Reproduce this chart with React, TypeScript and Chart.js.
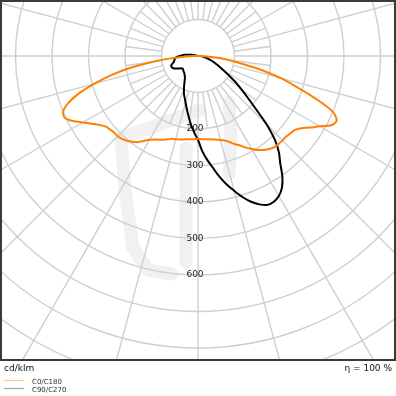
import { useEffect, useRef } from "react";
import { Chart, registerables } from "chart.js";

Chart.register(...registerables);

// gamma angles (deg from nadir) shared by all half-planes
const gammaDeg = [
  0, 2.5, 5, 7.5, 10, 12.5, 15, 17.5, 20, 22.5, 25, 27.5, 30, 32.5, 35, 37.5,
  40, 42.5, 45, 47.5, 50, 52.5, 55, 57.5, 60, 62.5, 65, 67.5, 70, 72.5, 75,
  77.5, 80, 82.5, 85, 87.5, 90, 95, 100, 105, 110, 180,
];

// luminous intensity, cd/klm
const c0Values = [
  227, 228, 229, 230, 232, 235, 238, 243, 250, 261, 270, 283, 294, 305, 314,
  321, 326, 327, 327, 327, 330, 334, 345, 365, 385, 411, 419, 400, 345, 285,
  235, 180, 125, 85, 55, 25, 5, 0, 0, 0, 0, 0,
];
const c180Values = [
  227, 228, 229, 230, 232, 234, 236, 238, 243, 248, 253, 258, 265, 276, 288,
  296, 303, 308, 311, 311, 314, 318, 329, 345, 364, 386, 402, 400, 379, 343,
  295, 245, 190, 130, 75, 40, 8, 0, 0, 0, 0, 0,
];
const c90Values = [
  230, 260, 285, 308, 335, 360, 382, 405, 425, 440, 450, 450, 443, 428, 403,
  370, 345, 312, 268, 215, 178, 150, 127, 103, 84, 70, 60, 50, 42, 35, 28, 22,
  17, 13, 10, 7, 5, 3, 0, 0, 0, 0,
];
const c270Values = [
  230, 212, 195, 177, 160, 145, 132, 121, 112, 101, 90, 80, 72, 67, 64, 61, 59,
  58, 57, 55, 54, 56, 59, 64, 69, 74, 77, 78, 78, 75, 70, 67, 66, 64, 63, 58,
  50, 36, 18, 5, 0, 0,
];

const ringValues = [100, 200, 300, 400, 500, 600, 700, 800, 900, 1000, 1100];
const labelledRings = [200, 300, 400, 500, 600];
const seriesNames = ["C0/C180", "C90/C270"];
const unitLabel = "cd/klm";
const efficiencyLabel = "η = 100 %";

function planePoints(right: number[], left: number[]) {
  const pts: { x: number; y: number }[] = [];
  for (let i = gammaDeg.length - 1; i >= 0; i--) {
    const g = (gammaDeg[i] * Math.PI) / 180;
    pts.push({ x: -left[i] * Math.sin(g), y: -left[i] * Math.cos(g) });
  }
  for (let i = 1; i < gammaDeg.length; i++) {
    const g = (gammaDeg[i] * Math.PI) / 180;
    pts.push({ x: right[i] * Math.sin(g), y: -right[i] * Math.cos(g) });
  }
  return pts;
}

const W = 396;
const PX_PER_UNIT = 0.365;
const CENTER_X = 198;
const CENTER_Y = 56;
const FRAME_BOTTOM = 361;
const FONT = "'DejaVu Sans', sans-serif";

// faint background watermark strokes (pixel polylines)
const watermark = [
  [[121, 138], [125, 190], [133, 248], [148, 270], [172, 274]],
  [[121, 138], [200, 110]],
  [[186, 148], [186, 262]],
  [[229, 102], [231, 140], [229, 174]],
];

const polarPlugin = {
  id: "polarGrid",
  beforeDatasetsDraw(chart: any) {
    const { ctx, chartArea, scales } = chart;
    const xs = scales.x;
    const ys = scales.y;
    const cx = xs.getPixelForValue(0);
    const cy = ys.getPixelForValue(0);
    const k = xs.getPixelForValue(1) - cx;
    ctx.save();
    ctx.beginPath();
    ctx.rect(chartArea.left, chartArea.top, chartArea.right - chartArea.left, FRAME_BOTTOM - chartArea.top);
    ctx.clip();
    // watermark
    ctx.strokeStyle = "#f1f1f1";
    ctx.lineWidth = 13;
    ctx.lineCap = "round";
    ctx.lineJoin = "round";
    for (const path of watermark) {
      ctx.beginPath();
      path.forEach((p, i) => (i ? ctx.lineTo(p[0], p[1]) : ctx.moveTo(p[0], p[1])));
      ctx.stroke();
    }
    ctx.lineCap = "butt";
    ctx.strokeStyle = "#cfcfcf";
    ctx.lineWidth = 1.4;
    for (const v of ringValues) {
      ctx.beginPath();
      ctx.arc(cx, cy, v * k, 0, Math.PI * 2);
      ctx.stroke();
    }
    const r1 = ringValues[0] * k;
    const r2 = ringValues[1] * k;
    const rMax = ringValues[ringValues.length - 1] * k;
    ctx.beginPath();
    for (let a = 0; a < 360; a += 7.5) {
      const t = (a * Math.PI) / 180;
      ctx.moveTo(cx + r1 * Math.sin(t), cy + r1 * Math.cos(t));
      ctx.lineTo(cx + r2 * Math.sin(t), cy + r2 * Math.cos(t));
    }
    for (let a = 0; a < 360; a += 15) {
      const t = (a * Math.PI) / 180;
      ctx.moveTo(cx + r2 * Math.sin(t), cy + r2 * Math.cos(t));
      ctx.lineTo(cx + rMax * Math.sin(t), cy + rMax * Math.cos(t));
    }
    ctx.stroke();
    ctx.fillStyle = "#222";
    ctx.font = `9px ${FONT}`;
    ctx.textAlign = "center";
    ctx.textBaseline = "middle";
    for (const v of labelledRings) {
      ctx.fillText(String(v), cx - 3, ys.getPixelForValue(-v));
    }
    ctx.restore();
  },
  afterDraw(chart: any) {
    const { ctx, chartArea } = chart;
    ctx.save();
    ctx.strokeStyle = "#3a3a3a";
    ctx.lineWidth = 2;
    ctx.strokeRect(chartArea.left + 1, chartArea.top + 1, chartArea.right - chartArea.left - 2, FRAME_BOTTOM - chartArea.top - 2);
    ctx.fillStyle = "#111";
    ctx.font = `9px ${FONT}`;
    ctx.textBaseline = "alphabetic";
    ctx.textAlign = "left";
    ctx.fillText(unitLabel, 4, 371);
    ctx.textAlign = "right";
    ctx.fillText(efficiencyLabel, 392, 371);
    const legendColors = ["#ffcc99", "#a6a6a6"];
    ctx.font = `7px ${FONT}`;
    ctx.textAlign = "left";
    seriesNames.forEach((name, i) => {
      const ly = 380.5 + i * 8;
      ctx.strokeStyle = legendColors[i];
      ctx.lineWidth = 1.3;
      ctx.beginPath();
      ctx.moveTo(4, ly);
      ctx.lineTo(24, ly);
      ctx.stroke();
      ctx.fillStyle = "#333";
      ctx.fillText(name, 32, ly + 3.5);
    });
    ctx.restore();
  },
};

export default function App() {
  const ref = useRef<HTMLCanvasElement | null>(null);
  useEffect(() => {
    if (!ref.current) return;
    const span = W / PX_PER_UNIT;
    const chart = new Chart(ref.current, {
      type: "scatter",
      data: {
        datasets: [
          {
            label: seriesNames[0],
            data: planePoints(c0Values, c180Values),
            showLine: true,
            borderColor: "#ff8000",
            borderWidth: 2,
            pointRadius: 0,
            tension: 0.3,
            fill: false,
          },
          {
            label: seriesNames[1],
            data: planePoints(c90Values, c270Values),
            showLine: true,
            borderColor: "#000000",
            borderWidth: 2,
            pointRadius: 0,
            tension: 0.3,
            fill: false,
          },
        ],
      },
      options: {
        animation: false,
        responsive: false,
        devicePixelRatio: 1,
        layout: { padding: 0 },
        plugins: { legend: { display: false }, tooltip: { enabled: false } },
        scales: {
          x: { type: "linear", display: false, min: -CENTER_X / PX_PER_UNIT, max: span - CENTER_X / PX_PER_UNIT },
          y: { type: "linear", display: false, min: -(W - CENTER_Y) / PX_PER_UNIT, max: CENTER_Y / PX_PER_UNIT },
        },
      } as any,
      plugins: [polarPlugin],
    });
    return () => chart.destroy();
  }, []);
  return (
    <div style={{ position: "absolute", left: 0, top: 0, width: W, height: W, background: "#fff" }}>
      <canvas ref={ref} width={W} height={W} style={{ display: "block" }} />
    </div>
  );
}
